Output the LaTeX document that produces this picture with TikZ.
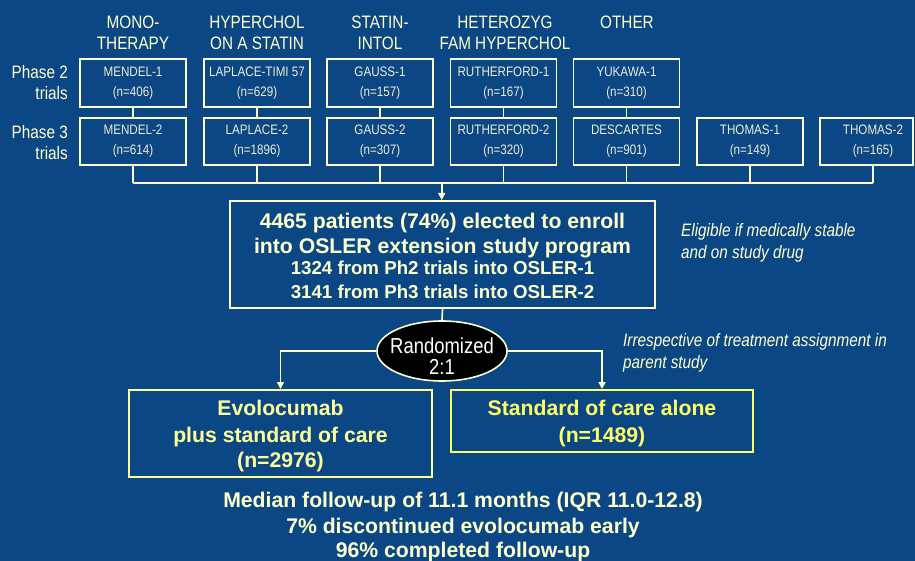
\documentclass[tikz,border=0pt]{standalone}
\usepackage{fontspec}
\setmainfont{Liberation Sans}
\newfontfamily\narrowf{Liberation Sans}[FakeStretch=0.85]
\usetikzlibrary{shapes.geometric,arrows.meta}
\definecolor{bg}{RGB}{11,71,133}
\definecolor{cream}{RGB}{255,255,204}
\definecolor{boxtxt}{RGB}{236,236,210}
\definecolor{evoy}{RGB}{255,255,153}
\definecolor{socy}{RGB}{255,255,102}
\begin{document}
\begin{tikzpicture}[x=1pt,y=-1pt,
  trialbox/.style={draw=cream,line width=1.8pt,minimum width=106pt,minimum height=47pt,inner sep=0pt,align=center,text=boxtxt,font=\narrowf\fontsize{13.7}{20}\selectfont},
  head/.style={text=cream,align=center,inner sep=0pt,font=\narrowf\fontsize{18}{21}\selectfont},
  phase/.style={text=cream,align=right,anchor=east,inner sep=0pt,font=\narrowf\fontsize{18}{21}\selectfont},
  note/.style={text=cream,align=left,anchor=west,inner sep=0pt,font=\narrowf\itshape\fontsize{18}{22}\selectfont},
  conn/.style={draw=cream,line width=1.6pt},
  arr/.style={conn,-{Triangle[length=7pt,width=7pt]}},
  bigbox/.style={draw=cream,line width=2pt,inner sep=0pt},
  bigtxt/.style={anchor=base,inner sep=0pt,text=cream,font=\bfseries\fontsize{21.2}{24}\selectfont},
  subtxt/.style={anchor=base,inner sep=0pt,text=cream,font=\bfseries\fontsize{18.7}{22}\selectfont},
  randtxt/.style={anchor=base,inner sep=0pt,text=white,font=\narrowf\fontsize{21.7}{24}\selectfont}
]
\fill[bg] (0,0) rectangle (915,561);
\useasboundingbox (0,0) rectangle (915,561);

% headers
\node[head] (h1) at (133,32.5) {MONO-\\THERAPY};
\node[head] (h2) at (257,32.5) {HYPERCHOL\\ON A STATIN};
\node[head] (h3) at (380,32.5) {STATIN-\\INTOL};
\node[head] (h4) at (505,32.5) {HETEROZYG\\FAM HYPERCHOL};
\node[head] (h5) at (627,22) {OTHER};

% phase labels
\node[phase] (p2) at (68,82.5) {Phase 2\\trials};
\node[phase] (p3) at (68,142.5) {Phase 3\\trials};

% phase 2 boxes
\node[trialbox,minimum height=48pt] (m1) at (133,83) {MENDEL-1\\(n=406)};
\node[trialbox,minimum height=48pt] (l1) at (257,83) {LAPLACE-TIMI 57\\(n=629)};
\node[trialbox,minimum height=48pt] (g1) at (380,83) {GAUSS-1\\(n=157)};
\node[trialbox,minimum height=48pt] (r1) at (503.5,83) {RUTHERFORD-1\\(n=167)};
\node[trialbox,minimum height=48pt] (y1) at (626.5,83) {YUKAWA-1\\(n=310)};

% phase 3 boxes
\node[trialbox] (m2) at (133,141.5) {MENDEL-2\\(n=614)};
\node[trialbox] (l2) at (257,141.5) {LAPLACE-2\\(n=1896)};
\node[trialbox] (g2) at (380,141.5) {GAUSS-2\\(n=307)};
\node[trialbox] (r2) at (503.5,141.5) {RUTHERFORD-2\\(n=320)};
\node[trialbox] (d2) at (626.5,141.5) {DESCARTES\\(n=901)};
\node[trialbox] (t1) at (750,141.5) {THOMAS-1\\(n=149)};
\node[trialbox,minimum width=93pt] (t2) at (866.5,141.5) {};
\node[trialbox,draw=none] (t2t) at (873,141.5) {THOMAS-2\\(n=165)};

% phase 2 -> phase 3 links
\draw[conn] (m1.south) -- (m2.north);
\draw[conn] (l1.south) -- (l2.north);
\draw[conn] (g1.south) -- (g2.north);
\draw[conn] (r1.south) -- (r2.north);
\draw[conn] (y1.south) -- (d2.north);

% bus
\coordinate (busL) at (133,183);
\coordinate (busR) at (873,183);
\coordinate (busM) at (441.7,183);
\draw[conn] (m2.south) -- (m2.south |- busL);
\draw[conn] (l2.south) -- (l2.south |- busL);
\draw[conn] (g2.south) -- (g2.south |- busL);
\draw[conn] (r2.south) -- (r2.south |- busL);
\draw[conn] (d2.south) -- (d2.south |- busL);
\draw[conn] (t1.south) -- (t1.south |- busL);
\draw[conn] (t2t.south |- t2.south) -- (busR);
\draw[conn] (busL) -- (busR);

% main box
\node[bigbox,minimum width=425pt,minimum height=107pt] (main) at (442.5,254.5) {};
\draw[arr] (busM) -- (busM |- main.north);
\node[bigtxt] (mt1) at (442.5,228.5) {4465 patients (74\%) elected to enroll};
\node[bigtxt] (mt2) at (442.5,253.5) {into OSLER extension study program};
\node[subtxt] (mt3) at (442.5,275) {1324 from Ph2 trials into OSLER-1};
\node[subtxt] (mt4) at (442.5,298.5) {3141 from Ph3 trials into OSLER-2};

% notes
\node[note] (n1) at (681,242.8) {Eligible if medically stable\\and on study drug};
\node[note] (n2) at (623,353) {Irrespective of treatment assignment in\\parent study};

% randomization
\node[ellipse,draw=cream,fill=black,line width=1.6pt,minimum width=130pt,minimum height=60pt,inner sep=0pt] (rand) at (442,351) {};
\draw[conn] (main.south) -- (rand.north);
\node[randtxt] (rt1) at (442,353.3) {Randomized};
\node[randtxt] (rt2) at (442,374) {2:1};

% arms
\node[bigbox,draw=evoy,minimum width=303pt,minimum height=87pt] (evo) at (280.5,433.5) {};
\node[bigbox,draw=socy,minimum width=302pt,minimum height=62pt] (soc) at (602,421) {};
\draw[arr] (rand.west) -| (evo.north);
\draw[arr] (rand.east) -| (soc.north);
\node[bigtxt,text=evoy] (e1) at (280.5,415.5) {Evolocumab};
\node[bigtxt,text=evoy] (e2) at (280.5,442) {plus standard of care};
\node[bigtxt,text=evoy] (e3) at (280.5,467.5) {(n=2976)};
\node[bigtxt,text=socy] (s1) at (602,415.7) {Standard of care alone};
\node[bigtxt,text=socy] (s2) at (602,442.7) {(n=1489)};

% bottom summary
\node[bigtxt] (b1) at (463,507.3) {Median follow-up of 11.1 months (IQR 11.0-12.8)};
\node[bigtxt] (b2) at (463,533.3) {7\% discontinued evolocumab early};
\node[bigtxt] (b3) at (463,557.7) {96\% completed follow-up};
\end{tikzpicture}
\end{document}
